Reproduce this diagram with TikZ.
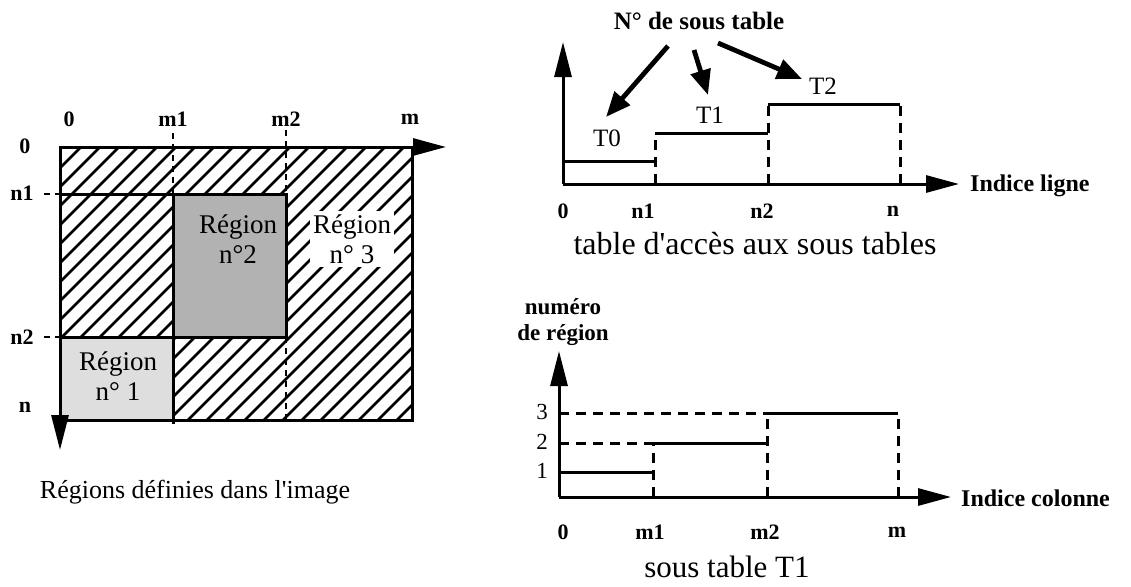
\documentclass[tikz,border=0pt]{standalone}
\usepackage{fontspec}
\setmainfont{Liberation Serif}
\usetikzlibrary{arrows.meta}
\newcommand{\myfs}[1]{\fontsize{#1}{#1}\selectfont}
\begin{document}
\begin{tikzpicture}[x=1pt,y=-1pt,
  lbl/.style={font=\myfs{22}\bfseries, inner sep=0pt},
  rlbl/.style={font=\myfs{23}, inner sep=0pt},
  tlbl/.style={font=\myfs{25}, inner sep=0pt},
  reg/.style={font=\fontsize{27}{30}\selectfont, inner sep=2pt, align=center},
  cap/.style={font=\myfs{#1}, inner sep=0pt},
  border/.style={line width=3pt},
  hatch/.style={line width=2.6pt},
  thin dash/.style={line width=1.6pt, dash pattern=on 6pt off 5pt},
  stepline/.style={line width=3pt},
  dashline/.style={line width=3pt, dash pattern=on 10pt off 7pt},
  axisx/.style={line width=3pt, -{Triangle[length=33pt,width=17pt]}},
  axisy/.style={line width=3pt, -{Triangle[length=35pt,width=17pt]}},
  bigarrow/.style={line width=4.8pt, -{Triangle[length=25pt,width=20pt]}}]
\useasboundingbox (0,0) rectangle (1131,586);

% ---------------- left figure ----------------
\coordinate (TL) at (60,147);
\coordinate (TR) at (412,147);
\coordinate (BL) at (60,420);
\coordinate (BR) at (412,420);
\coordinate (XA) at (446,147);
\coordinate (YA) at (60,450);

\begin{scope}
  \clip (TL) rectangle (BR);
  \foreach \x in {-230,-211,...,420} \draw[hatch] (\x,420) -- (\x+273,147);
\end{scope}
\fill[black!13] (60,337) rectangle (173,420);
\fill[black!30] (173,194) rectangle (286,337);

\draw[thin dash] (173,133) -- (173,194);
\draw[thin dash] (286,130) -- (286,194);
\draw[thin dash] (286,337) -- (286,420);
\draw[thin dash] (44,194) -- (60,194);
\draw[thin dash] (44,337) -- (60,337);

\draw[border] (TL) rectangle (BR);
\draw[border] (60,194) -- (286,194) -- (286,337) -- (60,337);
\draw[border] (173,194) -- (173,424);
\draw[axisx] (TR) -- (XA);
\draw[axisy] (BL) -- (YA);

\node[lbl] (c0) at (69,119) {0};
\node[lbl] (cm1) at (173,119) {m1};
\node[lbl] (cm2) at (286,119) {m2};
\node[lbl] (cm) at (410,119) {m};
\node[lbl] (r0) at (25,146) {0};
\node[lbl] (rn1) at (22,193) {n1};
\node[lbl] (rn2) at (22,337) {n2};
\node[lbl] (rn) at (25,407) {n};

\node[reg] (R2) at (238,239) {Région\\n°2};
\node[reg, fill=white, inner sep=3pt] (R3) at (352,239) {Région\\n° 3};
\node[reg] (R1) at (118,376) {Région\\n° 1};

\node[cap=26] (capL) at (195,492) {Régions définies dans l\textquotesingle image};

% ---------------- top right chart ----------------
\coordinate (O1) at (563,184);
\coordinate (Y1) at (563,42);
\coordinate (X1) at (959,184);
\draw[axisy] (O1) -- (Y1);
\draw[axisx] (O1) -- (X1);

\draw[stepline] (563,161) -- (655,161);
\draw[stepline] (655,133) -- (768,133);
\draw[stepline] (768,104) -- (900,104);
\draw[dashline] (655,184) -- (655,133);
\draw[dashline] (768,184) -- (768,104);
\draw[dashline] (900,184) -- (900,104);

\node[lbl, font=\myfs{24}\bfseries, anchor=west] (il) at (970,186) {Indice ligne};
\node[lbl] (t0) at (563,211) {0};
\node[lbl] (tn1) at (643,211) {n1};
\node[lbl] (tn2) at (762,211) {n2};
\node[lbl] (tn) at (893,211) {n};

\node[tlbl] (T0) at (607,138) {T0};
\node[tlbl] (T1) at (710,115) {T1};
\node[tlbl] (T2) at (823,86) {T2};

\node[lbl, font=\myfs{25}\bfseries] (title) at (699,21) {N° de sous table};
\coordinate (a0s) at (668,46);
\coordinate (a0e) at (606,117);
\coordinate (a1s) at (694,50);
\coordinate (a1e) at (708,95);
\coordinate (a2s) at (718,43);
\coordinate (a2e) at (802,79);
\draw[bigarrow] (a0s) -- (a0e);
\draw[bigarrow] (a1s) -- (a1e);
\draw[bigarrow] (a2s) -- (a2e);

\node[cap=32] (capT) at (755,244) {table d\textquotesingle accès aux sous tables};

% ---------------- bottom right chart ----------------
\coordinate (O2) at (559,497);
\coordinate (Y2) at (559,351);
\coordinate (X2) at (951,497);
\draw[axisy] (O2) -- (Y2);
\draw[axisx] (O2) -- (X2);

\draw[dashline] (559,413) -- (767,413);
\draw[dashline] (559,443) -- (653,443);
\draw[stepline] (559,472) -- (653,472);
\draw[stepline] (653,443) -- (767,443);
\draw[stepline] (767,413) -- (898,413);
\draw[dashline] (653,497) -- (653,443);
\draw[dashline] (767,497) -- (767,413);
\draw[dashline] (898,497) -- (898,413);

\node[lbl, font=\myfs{23}\bfseries] (num) at (563,307) {numéro};
\node[lbl, font=\myfs{23}\bfseries] (der) at (563,335) {de région};
\node[lbl, font=\myfs{24}\bfseries, anchor=west] (ic) at (961,498) {Indice colonne};

\node[rlbl] (v3) at (542,412) {3};
\node[rlbl] (v2) at (542,442) {2};
\node[rlbl] (v1) at (542,471) {1};
\node[lbl] (b0) at (563,532) {0};
\node[lbl] (bm1) at (650,532) {m1};
\node[lbl] (bm2) at (765,532) {m2};
\node[lbl] (bm) at (897,532) {m};

\node[cap=31] (capB) at (727,567) {sous table T1};
\end{tikzpicture}
\end{document}
